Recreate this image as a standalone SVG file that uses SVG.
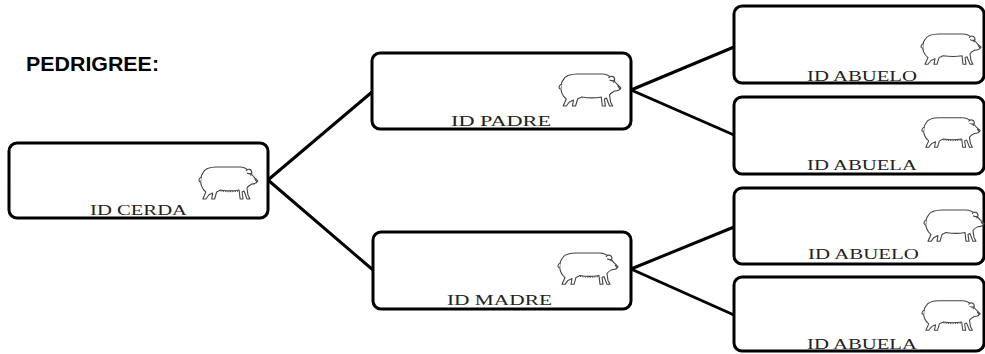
<svg xmlns="http://www.w3.org/2000/svg" xmlns:xlink="http://www.w3.org/1999/xlink" width="985" height="354" viewBox="0 0 985 354">
<style>
.box{fill:#fff;stroke:#000;stroke-width:3}
.conn{stroke:#000;stroke-width:3;fill:none;stroke-linecap:round}
.lbl{font-family:"Liberation Serif","Times New Roman",serif;font-size:14.5px;fill:#222}
.title{font-family:"Liberation Sans",Arial,sans-serif;font-size:20px;font-weight:bold;fill:#000}
.pig{fill:#fff;stroke:#444;stroke-width:1.1;stroke-linejoin:round}
.teat{fill:none;stroke:#444;stroke-width:1;stroke-dasharray:1.2 1.2}
</style>
<defs>
<g id="pig">
<path class="pig" d="M6,8 C8,3 14,2 20,2 L44,2 C48,2 51,4 53,6 C55,8 57,11 59,13 L62,16 C61,18 59,19 56,19 C54,20 52,21 51,23 L52,30 L54,34 L51,34 L48,26 L46,27 L47,34 L44,34 L43,25 C38,26 30,26 24,25 L20,27 L18,34 L15,34 L16,28 L12,30 L9,34 L6,34 L9,27 C5,24 3,18 4,14 C4,11 5,9 6,8 Z"/>
<path class="pig" d="M5,12 C2,13 1,16 3,17"/>
<path class="pig" d="M50,6 C52,3 56,4 56,8 C55,9 53,9 51,8"/>
<circle cx="55" cy="10" r="0.8" fill="#444"/>
<path class="pig" d="M59,14 L61,17"/>
</g>
<g id="sow">
<use xlink:href="#pig"/>
<path class="teat" d="M24,26 C30,27 37,27 43,26"/>
</g>
</defs>
<text class="title" x="26" y="71" textLength="133" lengthAdjust="spacingAndGlyphs">PEDRIGREE:</text>
<g id="connectors">
<line class="conn" x1="268" y1="180" x2="372" y2="92"/>
<line class="conn" x1="268" y1="180" x2="373" y2="270"/>
<line class="conn" x1="631" y1="90" x2="734" y2="47"/>
<line class="conn" x1="631" y1="90" x2="734" y2="135"/>
<line class="conn" x1="631" y1="269" x2="734" y2="227"/>
<line class="conn" x1="631" y1="269" x2="734" y2="315"/>
</g>
<g id="cerda">
<rect class="box" x="9" y="143" width="259" height="75" rx="8"/>
<use xlink:href="#sow" transform="translate(197,165) scale(0.98,1.0)"/>
<text class="lbl" x="90" y="215" textLength="97" lengthAdjust="spacingAndGlyphs">ID CERDA</text>
</g>
<g id="padre">
<rect class="box" x="372" y="53" width="259" height="76" rx="8"/>
<use xlink:href="#pig" transform="translate(557,72) scale(1.03,1.0)"/>
<text class="lbl" x="451" y="126" textLength="100" lengthAdjust="spacingAndGlyphs">ID PADRE</text>
</g>
<g id="madre">
<rect class="box" x="373" y="232" width="258" height="77" rx="8"/>
<use xlink:href="#sow" transform="translate(556,251) scale(1.0,0.98)"/>
<text class="lbl" x="447" y="305" textLength="105" lengthAdjust="spacingAndGlyphs">ID MADRE</text>
</g>
<g id="abuelo1">
<rect class="box" x="734" y="6" width="250" height="77" rx="8"/>
<use xlink:href="#pig" transform="translate(919,32) scale(1.0,0.95)"/>
<text class="lbl" x="807" y="81" textLength="110" lengthAdjust="spacingAndGlyphs">ID ABUELO</text>
</g>
<g id="abuela1">
<rect class="box" x="734" y="97" width="250" height="77" rx="8"/>
<use xlink:href="#sow" transform="translate(920,116) scale(0.97,0.92)"/>
<text class="lbl" x="807" y="170" textLength="110" lengthAdjust="spacingAndGlyphs">ID ABUELA</text>
</g>
<g id="abuelo2">
<rect class="box" x="734" y="188" width="250" height="76" rx="8"/>
<use xlink:href="#pig" transform="translate(922,208) scale(1.0,0.98)"/>
<text class="lbl" x="808" y="259" textLength="111" lengthAdjust="spacingAndGlyphs">ID ABUELO</text>
</g>
<g id="abuela2">
<rect class="box" x="734" y="277" width="250" height="74" rx="8"/>
<use xlink:href="#sow" transform="translate(920,299) scale(0.97,0.92)"/>
<text class="lbl" x="807" y="349" textLength="110" lengthAdjust="spacingAndGlyphs">ID ABUELA</text>
</g>
</svg>
